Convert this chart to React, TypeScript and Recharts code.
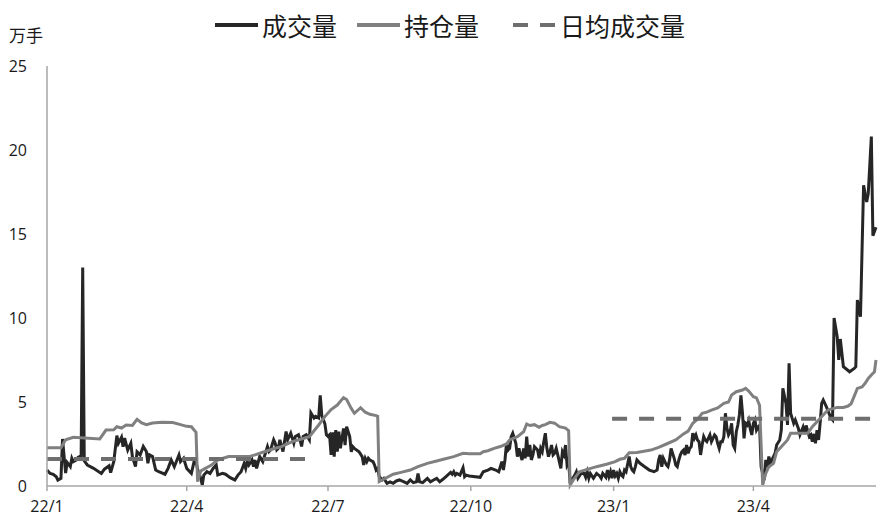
import React from 'react';
import { LineChart, Line, XAxis, YAxis } from 'recharts';

// x values are calendar days counted from 2022-01-01
const tickDays = [0, 90, 181, 273, 365, 455];
const tickLabels = ['22/1', '22/4', '22/7', '22/10', '23/1', '23/4'];
const yTicks = [0, 5, 10, 15, 20, 25];

// 成交量
const volDays = [
  0, 2, 4, 6, 7, 9, 10, 12, 13, 15, 16, 17, 19, 20, 22, 23, 24, 26, 30, 35, 37, 40, 41, 43, 45, 46, 48, 49, 50, 52,
  54, 55, 57, 58, 60, 62, 64, 65, 66, 68, 70, 72, 76, 78, 80, 82, 85, 86, 88, 90, 93, 95, 96, 97, 99, 100, 101, 103,
  105, 107, 109, 110, 113, 115, 118, 121, 123, 125, 127, 128, 129, 130, 132, 133, 134, 135, 137, 139, 142, 143, 144,
  146, 147, 148, 149, 150, 152, 154, 155, 157, 158, 159, 160, 162, 163, 164, 165, 167, 169, 170, 172, 173, 175, 176,
  177, 179, 180, 181, 182, 183, 184, 185, 186, 187, 188, 189, 191, 192, 193, 194, 195, 196, 197, 198, 201, 203, 204,
  205, 206, 207, 208, 210, 211, 212, 213, 214, 216, 217, 219, 221, 223, 225, 227, 230, 232, 234, 236, 238, 239, 240,
  242, 245, 247, 249, 251, 253, 255, 257, 260, 261, 262, 263, 264, 266, 268, 269, 270, 272, 279, 281, 284, 286, 289,
  291, 293, 294, 295, 296, 297, 298, 299, 300, 302, 303, 304, 305, 306, 307, 308, 309, 310, 311, 312, 313, 314, 316,
  317, 318, 319, 320, 321, 322, 323, 324, 325, 326, 327, 328, 329, 331, 332, 333, 334, 335, 336, 337, 338, 340, 341,
  342, 344, 346, 347, 348, 349, 350, 352, 354, 356, 357, 358, 360, 361, 362, 363, 364, 365, 366, 367, 368, 369, 370,
  371, 372, 373, 375, 376, 377, 378, 379, 380, 382, 385, 388, 391, 393, 394, 395, 396, 397, 398, 399, 400, 401, 402,
  404, 405, 406, 407, 408, 409, 410, 411, 412, 413, 414, 415, 416, 417, 418, 419, 420, 421, 422, 423, 424, 425, 426,
  427, 428, 429, 430, 431, 432, 433, 434, 435, 436, 437, 438, 439, 440, 441, 442, 443, 444, 445, 446, 447, 448, 449,
  450, 451, 452, 453, 454, 455, 456, 457, 458, 459, 460, 462, 463, 464, 465, 466, 467, 469, 470, 472, 473, 474, 476,
  477, 478, 479, 481, 482, 484, 485, 487, 488, 489, 491, 492, 493, 494, 495, 496, 497, 498, 499, 500, 502, 505, 506,
  507, 509, 510, 511, 513, 517, 520, 521, 522, 524, 526, 528, 529, 531, 532, 534,
];
const volValues = [
  0.95, 0.75, 0.7, 0.55, 0.35, 0.45, 2.8, 0.77, 1.4, 1.15, 1.65, 1.45, 1.55, 1.7, 1.8, 13.0, 1.5, 1.25, 1.05, 0.75,
  1.0, 1.2, 0.8, 1.45, 3.0, 2.54, 2.9, 2.34, 2.85, 2.14, 2.54, 1.75, 1.15, 2.04, 1.85, 2.35, 2.05, 1.35, 1.85, 1.75,
  0.95, 0.85, 0.7, 1.05, 1.55, 1.15, 1.85, 1.45, 1.65, 1.05, 0.75, 1.55, 1.45, 1.0, 0.46, 0.06, 0.65, 0.85, 0.75,
  1.05, 1.25, 0.65, 0.75, 0.7, 0.5, 0.36, 0.65, 0.85, 1.35, 1.05, 1.45, 1.25, 1.55, 1.15, 1.55, 1.05, 1.75, 1.45,
  2.35, 2.05, 2.15, 2.75, 2.55, 2.15, 2.25, 2.75, 2.05, 3.25, 2.75, 3.15, 2.85, 2.55, 2.95, 3.05, 2.75, 2.35, 2.95,
  3.05, 2.75, 4.35, 4.05, 4.15, 4.05, 5.4, 4.2, 3.7, 3.05, 2.95, 3.04, 1.85, 3.2, 1.75, 3.33, 2.04, 3.23, 2.24, 3.43,
  2.44, 3.53, 3.23, 2.94, 2.04, 2.34, 2.24, 2.04, 1.75, 1.25, 1.65, 1.45, 1.65, 1.55, 1.45, 1.25, 0.95, 1.05, 0.56,
  0.36, 0.45, 0.16, 0.25, 0.16, 0.3, 0.36, 0.25, 0.16, 0.36, 0.2, 0.25, 0.75, 0.25, 0.2, 0.45, 0.25, 0.36, 0.45,
  0.25, 0.4, 0.56, 0.81, 0.7, 0.85, 0.65, 0.75, 0.65, 1.09, 0.56, 0.65, 0.6, 0.52, 0.85, 0.95, 1.05, 0.95, 0.85,
  1.45, 0.95, 1.55, 2.54, 2.14, 2.24, 2.94, 3.14, 2.54, 1.75, 2.24, 1.85, 1.55, 2.24, 1.65, 2.94, 1.75, 2.44, 1.55,
  1.85, 2.34, 2.14, 1.65, 2.24, 2.04, 2.64, 3.14, 2.24, 1.75, 2.04, 2.44, 1.85, 1.95, 2.24, 1.85, 1.05, 2.04, 1.85,
  2.44, 1.25, 1.45, 0.16, 0.36, 0.65, 0.85, 0.46, 0.75, 0.75, 0.52, 0.85, 0.46, 0.75, 0.46, 0.75, 0.6, 0.46, 0.75,
  0.52, 0.95, 0.56, 0.85, 0.46, 0.95, 0.6, 0.75, 0.46, 0.85, 0.65, 0.56, 0.95, 0.85, 1.75, 1.15, 0.95, 0.85, 1.15,
  1.55, 1.35, 1.15, 0.95, 0.85, 0.95, 1.55, 1.85, 1.15, 1.65, 1.45, 1.25, 1.15, 1.55, 2.24, 1.65, 1.25, 1.15, 1.55,
  1.85, 2.04, 2.14, 1.85, 2.44, 1.95, 2.24, 2.34, 3.14, 2.84, 3.04, 2.74, 2.64, 1.85, 2.44, 2.94, 2.74, 2.64, 2.84,
  3.04, 2.64, 2.84, 3.04, 2.94, 2.54, 2.24, 2.64, 2.64, 2.94, 4.33, 3.43, 3.04, 3.23, 3.73, 2.44, 2.24, 3.23, 3.63,
  4.23, 5.4, 4.33, 2.84, 3.73, 3.63, 3.9, 3.4, 3.04, 3.73, 3.93, 3.33, 3.5, 3.6, 1.15, 0.36, 1.55, 1.15, 1.75, 1.35,
  1.55, 1.95, 2.44, 2.74, 3.33, 5.81, 4.92, 3.63, 7.3, 4.33, 3.73, 3.93, 3.43, 3.04, 3.5, 3.1, 3.6, 2.94, 3.04, 2.64,
  3.1, 2.54, 3.33, 2.74, 3.73, 4.92, 5.12, 4.72, 4.03, 3.93, 10.0, 8.89, 7.5, 8.75, 7.1, 6.8, 7.0, 7.1, 11.07, 10.08,
  17.9, 16.9, 17.4, 20.8, 14.9, 15.4,
];

// 持仓量
const oiDays = [
  0, 9, 12, 17, 34, 38, 43, 45, 48, 51, 55, 58, 61, 64, 68, 74, 81, 86, 90, 93, 95, 96, 97, 99, 102, 106, 110, 117,
  123, 130, 134, 140, 147, 151, 158, 164, 169, 175, 179, 183, 187, 191, 193, 196, 198, 202, 205, 208, 212, 213, 214,
  218, 223, 228, 234, 239, 245, 251, 256, 262, 268, 272, 279, 281, 284, 288, 292, 296, 298, 303, 307, 309, 311, 314,
  317, 319, 321, 324, 327, 330, 334, 336, 337, 339, 343, 348, 354, 361, 366, 369, 372, 375, 380, 389, 394, 399, 405,
  410, 413, 416, 419, 422, 425, 428, 432, 436, 439, 441, 444, 448, 450, 452, 455, 457, 459, 461, 463, 465, 468, 470,
  473, 477, 479, 485, 490, 493, 496, 500, 503, 509, 513, 516, 518, 522, 525, 527, 529, 531, 533, 534,
];
const oiValues = [
  2.28, 2.28, 2.75, 2.9, 2.8, 3.33, 3.35, 3.53, 3.45, 3.63, 3.6, 3.97, 3.75, 3.65, 3.75, 3.8, 3.78, 3.65, 3.55, 3.53,
  3.3, 3.2, 0.26, 0.89, 1.05, 1.25, 1.55, 1.75, 1.75, 1.75, 1.85, 2.04, 2.25, 2.34, 2.64, 2.8, 2.94, 3.63, 4.13, 4.55,
  4.82, 5.26, 5.15, 4.62, 4.33, 4.66, 4.39, 4.27, 4.19, 4.15, 0.26, 0.46, 0.7, 0.81, 0.95, 1.15, 1.35, 1.49, 1.61,
  1.75, 1.95, 1.92, 1.92, 2.04, 2.1, 2.24, 2.35, 2.5, 2.74, 2.94, 3.23, 3.69, 3.6, 3.65, 3.5, 3.6, 3.65, 3.79, 3.74,
  3.53, 3.45, 3.29, 0.06, 0.36, 0.85, 0.99, 1.15, 1.31, 1.45, 1.59, 1.65, 1.98, 2.0, 2.14, 2.3, 2.5, 2.74, 3.1, 3.27,
  3.73, 3.97, 4.33, 4.4, 4.52, 4.65, 4.92, 5.0, 5.42, 5.61, 5.71, 5.81, 5.65, 5.32, 5.25, 4.8, 0.06, 0.75, 1.15, 1.35,
  2.04, 2.34, 2.74, 3.14, 3.14, 3.14, 3.53, 3.83, 4.23, 4.52, 4.68, 4.68, 4.76, 4.9, 5.81, 5.9, 6.11, 6.4, 6.61, 6.8,
  7.5,
];

// 日均成交量 (null = no line between the two periods)
const avgDays = [0, 168, 169, 364, 534];
const avgValues: (number | null)[] = [1.6, 1.6, null, 4.0, 4.0];

const volData = volDays.map((d, i) => ({ day: d, value: volValues[i] }));
const oiData = oiDays.map((d, i) => ({ day: d, value: oiValues[i] }));
const avgData = avgDays.map((d, i) => ({ day: d, value: avgValues[i] }));

const legendItems = [
  { name: '成交量', color: '#262626', dash: undefined, left: 215 },
  { name: '持仓量', color: '#808080', dash: undefined, left: 357 },
  { name: '日均成交量', color: '#6e6e6e', dash: '15 12', left: 513 },
];

const cjk = '"Noto Sans CJK SC", "Noto Sans", sans-serif';
const latin = '"Open Sans", "Noto Sans", sans-serif';

export default function App() {
  return (
    <div style={{ position: 'absolute', left: 0, top: 0, width: 888, height: 525, background: '#fff', fontFamily: latin }}>
      {legendItems.map((it) => (
        <div
          key={it.name}
          style={{ position: 'absolute', left: it.left, top: 9, height: 32, display: 'flex', alignItems: 'center' }}
        >
          <svg width={43} height={8} style={{ marginRight: 4 }}>
            <line x1={0} y1={4} x2={43} y2={4} stroke={it.color} strokeWidth={4} strokeDasharray={it.dash} />
          </svg>
          <span style={{ fontFamily: cjk, fontSize: 25, lineHeight: '32px', color: '#1a1a1a' }}>{it.name}</span>
        </div>
      ))}
      <div style={{ position: 'absolute', left: 9, top: 25, fontFamily: cjk, fontSize: 17, lineHeight: '20px', color: '#1a1a1a' }}>
        万手
      </div>
      <LineChart width={888} height={525} margin={{ top: 66, right: 12, bottom: 9, left: 0 }}>
        <XAxis
          dataKey="day"
          type="number"
          domain={[0, 534]}
          ticks={tickDays}
          tickFormatter={(v: number) => tickLabels[tickDays.indexOf(v)] ?? ''}
          height={30}
          tickSize={5}
          tickMargin={10}
          axisLine={{ stroke: '#a6a6a6', strokeWidth: 1.5 }}
          tickLine={{ stroke: '#a6a6a6', strokeWidth: 1.5 }}
          tick={{ fontSize: 16, fill: '#1a1a1a', fontFamily: latin }}
        />
        <YAxis
          type="number"
          domain={[0, 25]}
          ticks={yTicks}
          width={47}
          tickLine={false}
          tickSize={0}
          tickMargin={20}
          axisLine={{ stroke: '#a6a6a6', strokeWidth: 1.5 }}
          tick={{ fontSize: 16, fill: '#1a1a1a', fontFamily: latin }}
        />
        <Line
          data={volData}
          dataKey="value"
          type="linear"
          stroke="#262626"
          strokeWidth={3}
          dot={false}
          isAnimationActive={false}
          name="成交量"
        />
        <Line
          data={oiData}
          dataKey="value"
          type="linear"
          stroke="#808080"
          strokeWidth={3}
          dot={false}
          isAnimationActive={false}
          name="持仓量"
        />
        <Line
          data={avgData}
          dataKey="value"
          type="linear"
          stroke="#6e6e6e"
          strokeWidth={4}
          strokeDasharray="15 12"
          dot={false}
          isAnimationActive={false}
          name="日均成交量"
        />
      </LineChart>
    </div>
  );
}
